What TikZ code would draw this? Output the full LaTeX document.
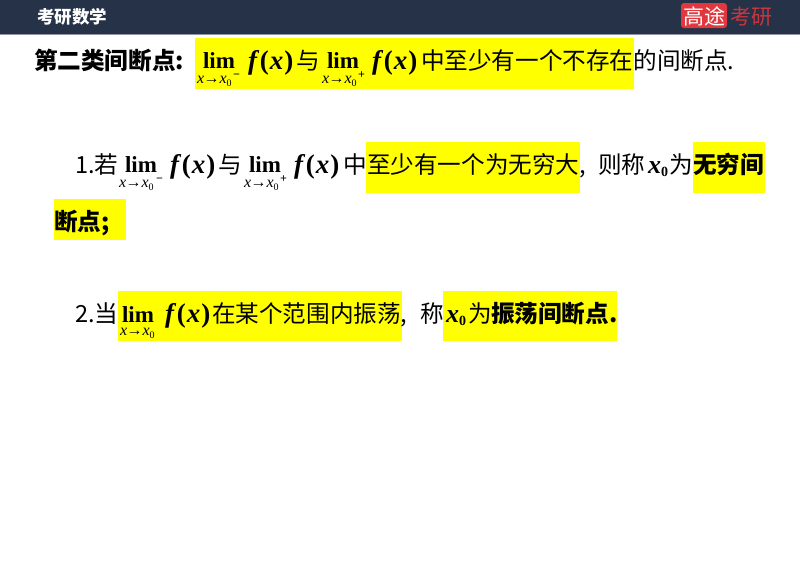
\documentclass[tikz,border=0pt]{standalone}
\usepackage{fontspec}
\setmainfont{Liberation Serif}
\newfontfamily\cjk{Noto Sans CJK SC}
\newfontfamily\rmf{Liberation Serif}
\newcommand{\fsz}[1]{\fontsize{#1}{#1}\selectfont}
\definecolor{hdr}{HTML}{253248}
\definecolor{hdrline}{HTML}{8E96A3}
\definecolor{logored}{HTML}{E0383E}
\definecolor{logotxt}{HTML}{C9363F}
\definecolor{hl}{HTML}{FFFF00}
\tikzset{
  txt/.style={anchor=base west,inner sep=0pt,outer sep=0pt,text=black,font=\cjk\fsz{23.6}},
  btxt/.style={txt,font=\cjk\bfseries\fsz{23.6}},
  mathf/.style={txt,font=\rmf\bfseries\itshape\fsz{27}},
  limt/.style={txt,font=\rmf\bfseries\fsz{23}},
  subt/.style={txt,font=\rmf\itshape\fsz{16}},
  supt/.style={txt,font=\rmf\bfseries\fsz{12}},
  hlbox/.style={fill=hl,draw=none}
}
\newcommand{\xsub}{x\kern-0.5pt→x\raisebox{-3pt}{\fsz{10}\textup{0}}}
\newcommand{\fx}{f\kern3pt\textup{(}\kern1pt x\kern1pt\textup{)}}
\begin{document}
\begin{tikzpicture}[x=1pt,y=-1pt]
\useasboundingbox (0,0) rectangle (800,566);
\fill[white] (0,0) rectangle (800,566);
\fill[hdr] (0,0) rectangle (800,34);
\fill[hdrline] (0,34) rectangle (800,35);
\node[txt,text=white,font=\cjk\bfseries\fsz{17.5}] (title) at (37,23) {考研数学};
\fill[logored,rounded corners=3pt] (681,3) rectangle (727,28);
\node[txt,text=white,font=\cjk\fsz{21}] (logoa) at (683,24) {高途};
\node[txt,text=logotxt,font=\cjk\fsz{21}] (logob) at (730,24) {考研};
% highlights
\fill[hlbox] (195,38) rectangle (634,89);
\fill[hlbox] (366,142) rectangle (580,193);
\fill[hlbox] (693,142) rectangle (765,193);
\fill[hlbox] (54,199) rectangle (126,240);
\fill[hlbox] (118,291) rectangle (402,341);
\fill[hlbox] (443,291) rectangle (617,341);
% line 1
\node[btxt] (a1) at (34,69) {第二类间断点:};
\node[limt] (a2) at (203,68) {lim};
\node[subt] (a3) at (197,83) {\xsub};
\node[supt] (a4) at (233,78) {−};
\node[mathf] (a5) at (248,69) {\fx};
\node[txt] (a6) at (296.5,69) {与};
\node[limt] (a7) at (327,68) {lim};
\node[subt] (a8) at (322,83) {\xsub};
\node[supt] (a9) at (358,78) {+};
\node[mathf] (a10) at (372,69) {\fx};
\node[txt] (a11) at (421,69) {中至少有一个不存在的间断点.};
% line 2
\node[txt] (b1) at (75,173) {1.若};
\node[limt] (b2) at (125,172) {lim};
\node[subt] (b3) at (119,187) {\xsub};
\node[supt] (b4) at (156,182) {−};
\node[mathf] (b5) at (170,173) {\fx};
\node[txt] (b6) at (218,173) {与};
\node[limt] (b7) at (249,172) {lim};
\node[subt] (b8) at (244,187) {\xsub};
\node[supt] (b9) at (280,182) {+};
\node[mathf] (b10) at (294,173) {\fx};
\node[txt] (b11) at (343.5,173) {中至少有一个为无穷大,};
\node[txt] (b12) at (598,173) {则称};
\node[mathf,font=\rmf\bfseries\itshape\fsz{26}] (b13) at (648,173) {x\raisebox{-3pt}{\fsz{14}\textup{0}}};
\node[txt] (b14) at (669,173) {为};
\node[btxt] (b15) at (693,173) {无穷间};
\node[btxt] (b16) at (54,230) {断点;};
% line 3
\node[txt] (c1) at (75,322) {2.当};
\node[limt] (c2) at (122,322) {lim};
\node[subt] (c3) at (120,335) {\xsub};
\node[mathf] (c4) at (165,322) {\fx};
\node[txt] (c5) at (212,322) {在某个范围内振荡,};
\node[txt] (c6) at (420,322) {称};
\node[mathf,font=\rmf\bfseries\itshape\fsz{26}] (c7) at (446,322) {x\raisebox{-3pt}{\fsz{14}\textup{0}}};
\node[txt] (c8) at (468,322) {为};
\node[btxt] (c9) at (491,322) {振荡间断点.};
\end{tikzpicture}
\end{document}
